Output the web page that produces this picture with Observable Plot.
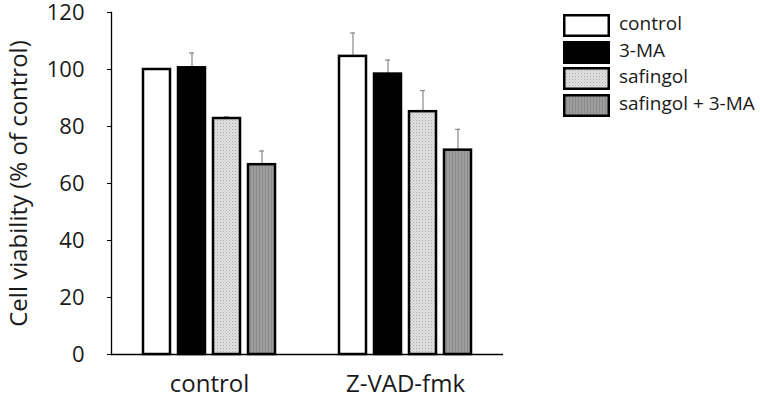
<!DOCTYPE html>
<html>
<head>
<meta charset="utf-8">
<script src="https://cdn.jsdelivr.net/npm/d3@7"></script>
<script src="https://cdn.jsdelivr.net/npm/@observablehq/plot@0.6"></script>
<style>
  body { margin: 0; background: #fff; }
  #wrap { position: relative; width: 760px; height: 400px; font-family: "Open Sans", sans-serif; color: #1a1a1a; }
  #legend { position: absolute; left: 563px; top: 12px; }
  .row { display: flex; align-items: center; height: 26.8px; }
  .row span { font-size: 19px; margin-left: 9px; line-height: 1; position: relative; top: -2px; }
  #wrap svg g[aria-label="y-axis tick label"] { font-size: 22px; }
  #wrap svg g[aria-label="fx-axis tick label"] { font-size: 24px; }
  #wrap svg g[aria-label="y-axis label"] { font-size: 24px; }
</style>
</head>
<body>
<svg width="0" height="0" style="position:absolute">
  <defs>
    <pattern id="dots" width="3" height="3" patternUnits="userSpaceOnUse">
      <rect width="3" height="3" fill="#e2e2e2"></rect>
      <rect x="0" y="0" width="1" height="1" fill="#a8a8a8"></rect>
      <rect x="1.5" y="1.5" width="1" height="1" fill="#bdbdbd"></rect>
    </pattern>
    <pattern id="stripes" width="3" height="3" patternUnits="userSpaceOnUse">
      <rect width="3" height="3" fill="#9c9c9c"></rect>
      <rect x="0" y="0" width="1" height="3" fill="#8c8c8c"></rect>
    </pattern>
  </defs>
</svg>
<div id="wrap"><div id="legend"></div></div>
<script>
const groups = ["control", "Z-VAD-fmk"];
const treatments = ["control", "3-MA", "safingol", "safingol + 3-MA"];
const valuesControl = [100, 100.6, 82.8, 66.6];
const errorsControl = [0, 5.2, 0.6, 4.8];
const valuesZVAD = [104.6, 98.4, 85.2, 71.7];
const errorsZVAD = [8.2, 4.9, 7.4, 7.3];
const yTicks = [0, 20, 40, 60, 80, 100, 120];
const fills = ["white", "black", "url(#dots)", "url(#stripes)"];

const data = [];
treatments.forEach((t, i) => data.push({group: groups[0], treatment: t, value: valuesControl[i], err: errorsControl[i]}));
treatments.forEach((t, i) => data.push({group: groups[1], treatment: t, value: valuesZVAD[i], err: errorsZVAD[i]}));

const chart = Plot.plot({
  width: 760,
  height: 400,
  marginLeft: 110,
  marginRight: 257,
  marginTop: 12,
  marginBottom: 46,
  style: {fontFamily: "Open Sans, sans-serif", color: "#1a1a1a", background: "white"},
  facet: {data, x: "group"},
  fx: {domain: groups, paddingInner: 0, paddingOuter: 0, label: null, axis: null},
  x: {domain: treatments, paddingInner: 0.229, paddingOuter: 0.869, axis: null},
  y: {domain: [0, 120], axis: null},
  color: {domain: treatments, range: fills, legend: false},
  marks: [
    Plot.axisFx({anchor: "bottom", tickSize: 0, tickPadding: 20, fontSize: 24, label: null}),
    Plot.axisY({ticks: yTicks, tickSize: 4, tickPadding: 23, fontSize: 22, stroke: "black",
      label: "Cell viability (% of control)", labelArrow: "none", labelAnchor: "center", labelOffset: 102}),
    Plot.frame({anchor: "left", facetAnchor: "left", stroke: "black", strokeWidth: 1.3}),
    Plot.ruleX(data, {filter: d => d.err > 0, x: "treatment", y1: "value", y2: d => d.value + d.err, stroke: "#888", strokeWidth: 1.2}),
    Plot.tickY(data, {filter: d => d.err > 0, x: "treatment", y: d => d.value + d.err, stroke: "#888", strokeWidth: 1.2, insetLeft: 11, insetRight: 11}),
    Plot.barY(data, {x: "treatment", y: "value", fill: "treatment", stroke: "black", strokeWidth: 2.5}),
    Plot.ruleY([0], {stroke: "black", strokeWidth: 1.3})
  ]
});
const wrap = document.getElementById("wrap");
wrap.insertBefore(chart, wrap.firstChild);

const legend = document.getElementById("legend");
treatments.forEach((t, i) => {
  const row = document.createElement("div");
  row.className = "row";
  row.innerHTML = `<svg width="47" height="23"><rect x="1.25" y="1.25" width="44.5" height="20.5" fill="${fills[i]}" stroke="black" stroke-width="2.5"></rect></svg><span>${t}</span>`;
  legend.appendChild(row);
});
</script>
</body>
</html>
